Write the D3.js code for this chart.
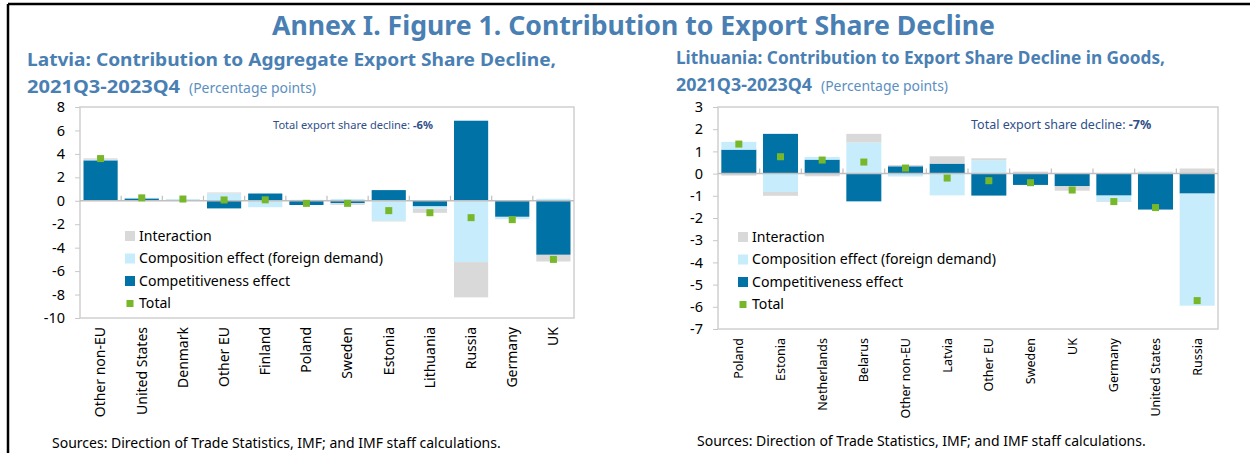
<!DOCTYPE html>
<html>
<head>
<meta charset="utf-8">
<script src="https://cdn.jsdelivr.net/npm/d3@7"></script>
<style>
  body { margin: 0; background: #fff; }
  svg { display: block; }
  text { font-family: "Noto Sans", sans-serif; }
</style>
</head>
<body>
<svg id="chart" width="1250" height="453"></svg>
<script>
// series order used for stacking (nearest zero first)
var seriesKeys = ["competitiveness", "composition", "interaction"];
var seriesNames = ["Interaction", "Composition effect (foreign demand)", "Competitiveness effect", "Total"];

// Latvia panel
var latviaCats = ["Other non-EU", "United States", "Denmark", "Other EU", "Finland", "Poland",
  "Sweden", "Estonia", "Lithuania", "Russia", "Germany", "UK"];
var latviaCompetitiveness = [3.45, 0.2, 0.0, -0.65, 0.62, -0.36, -0.2, 0.91, -0.48, 6.83, -1.37, -4.61];
var latviaComposition = [0.05, 0.03, 0.15, 0.62, -0.55, 0.05, 0.15, -1.71, -0.2, -5.23, -0.17, 0.17];
var latviaInteraction = [0.12, 0.02, 0.0, 0.09, 0.0, 0.03, -0.15, -0.05, -0.35, -3.01, -0.03, -0.57];
var latviaTotal = [3.6, 0.25, 0.15, 0.07, 0.08, -0.22, -0.22, -0.84, -1.02, -1.44, -1.61, -5.0];
var latviaTicks = [8, 6, 4, 2, 0, -2, -4, -6, -8, -10];

// Lithuania panel
var lithuaniaCats = ["Poland", "Estonia", "Netherlands", "Belarus", "Other non-EU", "Latvia",
  "Other EU", "Sweden", "UK", "Germany", "United States", "Russia"];
var lithuaniaCompetitiveness = [1.08, 1.79, 0.63, -1.25, 0.33, 0.45, -0.99, -0.51, -0.57, -0.99, -1.62, -0.9];
var lithuaniaComposition = [0.35, -0.83, 0.12, 1.4, -0.13, -0.98, 0.6, 0.0, 0.0, -0.26, 0.09, -5.05];
var lithuaniaInteraction = [-0.09, -0.17, -0.12, 0.39, 0.06, 0.33, 0.09, 0.09, -0.2, -0.03, 0.0, 0.23];
var lithuaniaTotal = [1.33, 0.76, 0.61, 0.52, 0.25, -0.2, -0.32, -0.41, -0.74, -1.26, -1.53, -5.72];
var lithuaniaTicks = [3, 2, 1, 0, -1, -2, -3, -4, -5, -6, -7];

var colors = {
  competitiveness: "#0072a6",
  composition: "#c7ecfb",
  interaction: "#d9d9d9",
  total: "#77b82a"
};
var titleBlue = "#4a7fb3";

var svg = d3.select("#chart");

// frame lines of the page
svg.append("line").attr("x1", 8).attr("x2", 1250).attr("y1", 4).attr("y2", 4)
  .attr("stroke", "#000").attr("stroke-width", 2.5);
svg.append("line").attr("x1", 8).attr("x2", 8).attr("y1", 4).attr("y2", 453)
  .attr("stroke", "#000").attr("stroke-width", 2.5);

svg.append("text")
  .attr("x", 272).attr("y", 35)
  .attr("font-size", "26px").attr("font-weight", "bold")
  .attr("fill", titleBlue)
  .attr("textLength", 723).attr("lengthAdjust", "spacingAndGlyphs")
  .text("Annex I. Figure 1. Contribution to Export Share Decline");

function drawPanel(p) {
  var g = svg.append("g");

  // titles
  g.append("text")
    .attr("x", p.titleX).attr("y", p.titleY)
    .attr("font-size", p.titleSize + "px").attr("font-weight", "bold")
    .attr("fill", titleBlue)
    .attr("textLength", p.titleLen).attr("lengthAdjust", "spacingAndGlyphs")
    .text(p.title);
  g.append("text")
    .attr("x", p.titleX).attr("y", p.titleY + 27)
    .attr("font-size", p.titleSize + "px").attr("font-weight", "bold")
    .attr("fill", titleBlue)
    .attr("textLength", p.periodLen).attr("lengthAdjust", "spacingAndGlyphs")
    .text("2021Q3-2023Q4");
  g.append("text")
    .attr("x", p.unitX).attr("y", p.titleY + 27)
    .attr("font-size", "14.5px").attr("fill", "#5b8fc2")
    .attr("textLength", p.unitLen).attr("lengthAdjust", "spacingAndGlyphs")
    .text("(Percentage points)");

  var x = d3.scaleBand().domain(p.cats).range([p.left, p.right]).padding(0);
  var y = d3.scaleLinear().domain([p.ticks[p.ticks.length - 1], p.ticks[0]]).range([p.bottom, p.top]);
  var step = x.step();
  var bw = step * p.barFrac;

  // plot frame
  g.append("rect")
    .attr("x", p.left).attr("y", p.top)
    .attr("width", p.right - p.left).attr("height", p.bottom - p.top)
    .attr("fill", "none").attr("stroke", "#d0d0d0").attr("stroke-width", 1.5);

  // y axis
  var yAxis = g.append("g")
    .attr("transform", "translate(" + p.left + ",0)")
    .call(d3.axisLeft(y).tickValues(p.ticks).tickSize(5).tickPadding(10)
      .tickFormat(function(d) { return String(d); }));
  yAxis.select(".domain").remove();
  yAxis.selectAll("line").attr("stroke", "#c8c8c8");
  yAxis.selectAll("text").attr("font-size", "14.5px").attr("fill", "#000")
    .attr("font-family", "\"Noto Sans\", sans-serif");

  // stacked bars
  var rows = p.cats.map(function(c, i) {
    return { cat: c, competitiveness: p.comp[i], composition: p.compo[i], interaction: p.inter[i] };
  });
  var stacked = d3.stack().keys(seriesKeys).offset(d3.stackOffsetDiverging)(rows);

  g.selectAll(".layer")
    .data(stacked)
    .enter().append("g")
      .attr("fill", function(d) { return colors[d.key]; })
    .selectAll("rect")
    .data(function(d) { return d; })
    .enter().append("rect")
      .attr("x", function(d) { return x(d.data.cat) + (step - bw) / 2; })
      .attr("width", bw)
      .attr("y", function(d) { return y(Math.max(d[0], d[1])); })
      .attr("height", function(d) { return Math.abs(y(d[0]) - y(d[1])); });

  // zero line and category ticks
  var y0 = y(0);
  g.append("line")
    .attr("x1", p.left).attr("x2", p.right).attr("y1", y0).attr("y2", y0)
    .attr("stroke", "#bfbfbf").attr("stroke-width", 1.5);
  g.selectAll(".ctick")
    .data(p.cats.slice(1))
    .enter().append("line")
      .attr("x1", function(d) { return x(d); }).attr("x2", function(d) { return x(d); })
      .attr("y1", y0 - 5).attr("y2", y0)
      .attr("stroke", "#bfbfbf").attr("stroke-width", 1.2);

  // totals
  g.selectAll(".tot")
    .data(p.total)
    .enter().append("rect")
      .attr("x", function(d, i) { return x(p.cats[i]) + step / 2 - 3.5; })
      .attr("y", function(d) { return y(d) - 3.5; })
      .attr("width", 7).attr("height", 7)
      .attr("fill", colors.total);

  // category labels
  g.selectAll(".clab")
    .data(p.cats)
    .enter().append("text")
      .attr("transform", function(d) {
        return "translate(" + (x(d) + step / 2) + "," + (p.bottom + p.labelGap) + ") rotate(-90)";
      })
      .attr("text-anchor", "end").attr("dy", "0.35em")
      .attr("font-size", p.catSize + "px").attr("fill", "#000")
      .text(function(d) { return d; });

  // annotation
  var ann = g.append("text")
    .attr("x", p.annX).attr("y", 129)
    .attr("font-size", p.annSize + "px").attr("fill", "#2f4f8a");
  ann.append("tspan").text("Total export share decline: ");
  ann.append("tspan").attr("font-weight", "bold").text(p.annValue);

  // legend
  var legendColors = [colors.interaction, colors.composition, colors.competitiveness];
  seriesNames.forEach(function(name, i) {
    var ly = p.legendY + i * 22.5;
    if (i < 3) {
      g.append("rect").attr("x", p.legendX).attr("y", ly - 5).attr("width", 10).attr("height", 10)
        .attr("fill", legendColors[i]);
    } else {
      g.append("rect").attr("x", p.legendX + 1.5).attr("y", ly - 3.5).attr("width", 7).attr("height", 7)
        .attr("fill", colors.total);
    }
    g.append("text").attr("x", p.legendX + 14).attr("y", ly).attr("dy", "0.35em")
      .attr("font-size", "14.1px").attr("fill", "#000").text(name);
  });

  // source
  g.append("text")
    .attr("x", p.srcX).attr("y", p.srcY)
    .attr("font-size", "14px").attr("fill", "#000")
    .text("Sources: Direction of Trade Statistics, IMF; and IMF staff calculations.");
}

drawPanel({
  title: "Latvia: Contribution to Aggregate Export Share Decline,",
  titleX: 27, titleY: 66, titleSize: 18, titleLen: 529,
  periodLen: 153, unitX: 189, unitLen: 127,
  cats: latviaCats, comp: latviaCompetitiveness, compo: latviaComposition,
  inter: latviaInteraction, total: latviaTotal, ticks: latviaTicks,
  left: 80, right: 574, top: 107, bottom: 318, barFrac: 0.83,
  labelGap: 9, catSize: 14,
  annX: 273, annSize: 11.1, annValue: "-6%",
  legendX: 125, legendY: 236,
  srcX: 52, srcY: 448
});

drawPanel({
  title: "Lithuania: Contribution to Export Share Decline in Goods,",
  titleX: 676, titleY: 64, titleSize: 17, titleLen: 489,
  periodLen: 136, unitX: 821, unitLen: 127,
  cats: lithuaniaCats, comp: lithuaniaCompetitiveness, compo: lithuaniaComposition,
  inter: lithuaniaInteraction, total: lithuaniaTotal, ticks: lithuaniaTicks,
  left: 718, right: 1218, top: 107, bottom: 329, barFrac: 0.84,
  labelGap: 9, catSize: 12.5,
  annX: 971, annSize: 12.5, annValue: "-7%",
  legendX: 738, legendY: 237,
  srcX: 697, srcY: 446
});
</script>
</body>
</html>
